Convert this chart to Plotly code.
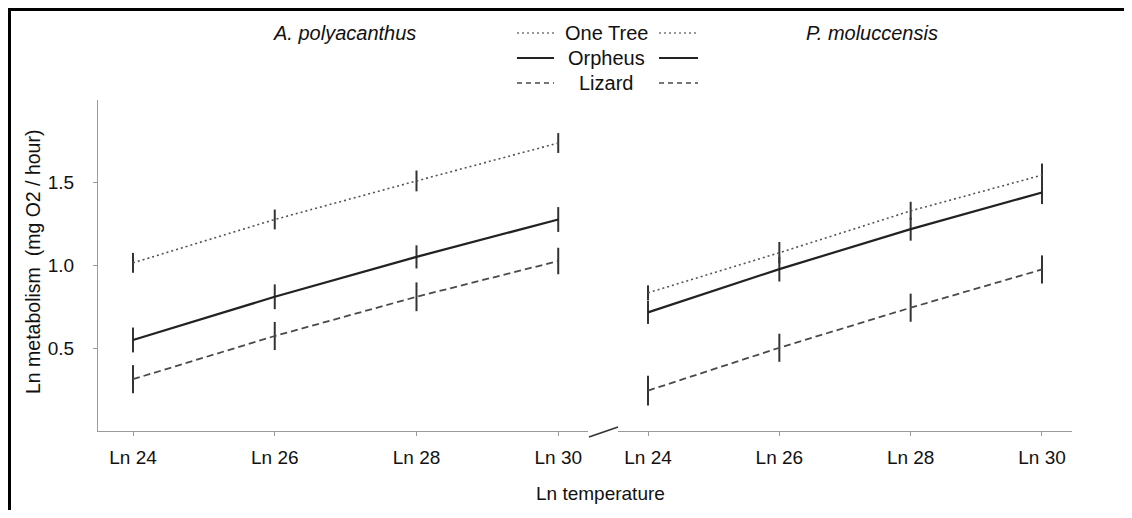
import plotly.graph_objects as go

temps = [24, 26, 28, 30]
tick_labels = ["Ln 24", "Ln 26", "Ln 28", "Ln 30"]

# A. polyacanthus (left panel)
apoly_onetree = [1.016, 1.278, 1.511, 1.740]
apoly_onetree_err = [0.06, 0.06, 0.063, 0.06]
apoly_orpheus = [0.550, 0.811, 1.052, 1.278]
apoly_orpheus_err = [0.075, 0.075, 0.07, 0.075]
apoly_lizard = [0.313, 0.574, 0.811, 1.027]
apoly_lizard_err = [0.085, 0.085, 0.087, 0.08]

# P. moluccensis (right panel)
pmol_onetree = [0.835, 1.077, 1.330, 1.546]
pmol_onetree_err = [0.045, 0.065, 0.055, 0.07]
pmol_orpheus = [0.717, 0.978, 1.220, 1.441]
pmol_orpheus_err = [0.07, 0.075, 0.07, 0.07]
pmol_lizard = [0.244, 0.503, 0.745, 0.976]
pmol_lizard_err = [0.09, 0.085, 0.085, 0.085]

series_names = ["One Tree", "Orpheus", "Lizard"]
styles = {
    "One Tree": dict(color="#555555", width=1.6, dash="2px,3px"),
    "Orpheus": dict(color="#222222", width=2.2, dash="solid"),
    "Lizard": dict(color="#4a4a4a", width=1.8, dash="7px,4px"),
}
legend_dash = {"One Tree": "2px,3px", "Orpheus": "solid", "Lizard": "5px,4px"}

OFF = 8  # page body margin
W, H = 1132 - 2 * OFF, 518 - 2 * OFF
# plot area in page pixels: x 98..1072, y 100..431
L = 98 - OFF
T = 100 - OFF
R = W - (1072 - OFF)
B = H - (431 - OFF)
PW = W - L - R
PH = H - T - B


def px(x):
    return (x - OFF - L) / PW


def py(y):
    return (H - B - (y - OFF)) / PH


FONT = "Liberation Sans, Arial, sans-serif"
fig = go.Figure()

panels = [
    ("x", [apoly_onetree, apoly_orpheus, apoly_lizard],
     [apoly_onetree_err, apoly_orpheus_err, apoly_lizard_err]),
    ("x2", [pmol_onetree, pmol_orpheus, pmol_lizard],
     [pmol_onetree_err, pmol_orpheus_err, pmol_lizard_err]),
]
for xa, vals, errs in panels:
    for name, v, e in zip(series_names, vals, errs):
        fig.add_trace(go.Scatter(
            x=temps, y=v, mode="lines", name=name, showlegend=False,
            xaxis=xa, yaxis="y",
            line=styles[name],
            error_y=dict(type="data", array=e, visible=True, width=0,
                         thickness=2, color="#333333"),
        ))

axis_common = dict(
    showline=True, linecolor="#9a9a9a", linewidth=1.2,
    ticks="outside", ticklen=4, tickcolor="#9a9a9a", tickwidth=1,
    showgrid=False, zeroline=False,
    tickfont=dict(family=FONT, size=19, color="#111111"),
)

fig.update_layout(
    width=W, height=H,
    margin=dict(l=L, r=R, t=T, b=B),
    paper_bgcolor="white", plot_bgcolor="white",
    showlegend=False,
    xaxis=dict(domain=[0, px(588)], range=[23.506, 30.42], anchor="y",
               tickvals=temps, ticktext=tick_labels, ticklabelstandoff=5,
               **axis_common),
    xaxis2=dict(domain=[px(618), 1], range=[23.543, 30.457], anchor="y",
                tickvals=temps, ticktext=tick_labels, ticklabelstandoff=5,
                **axis_common),
    yaxis=dict(domain=[0, 1], range=[0, 2.0], anchor="x",
               tickvals=[0.5, 1.0, 1.5], ticktext=["0.5", "1.0", "1.5"],
               ticklabelstandoff=15, **axis_common),
)

annotations = [
    dict(text="<i>A. polyacanthus</i>", x=px(344), y=py(33), size=20),
    dict(text="<i>P. moluccensis</i>", x=px(872), y=py(33), size=20),
    dict(text="Ln temperature", x=px(600), y=py(493), size=19),
    dict(text="Ln metabolism  (mg O2 / hour)", x=px(33), y=py(262),
         textangle=-90, size=19.5),
]
legend_rows = [("One Tree", 33), ("Orpheus", 58), ("Lizard", 83)]
for name, yy in legend_rows:
    annotations.append(dict(text=name, x=px(606), y=py(yy), size=20))

anns = []
for a in annotations:
    size = a.pop("size")
    anns.append(dict(a, xref="paper", yref="paper", showarrow=False,
                     xanchor="center", yanchor="middle",
                     font=dict(family=FONT, size=size, color="#111111")))
fig.update_layout(annotations=anns)

shapes = []
for name, yy in legend_rows:
    st = styles[name]
    for x0, x1 in [(517, 554), (659, 698)]:
        shapes.append(dict(type="line", xref="paper", yref="paper",
                           x0=px(x0), x1=px(x1), y0=py(yy), y1=py(yy),
                           line=dict(color=st["color"] if name != "One Tree" else "#777777",
                                     width=1.5 if name != "Orpheus" else 2,
                                     dash=legend_dash[name])))
# axis break mark
shapes.append(dict(type="line", xref="paper", yref="paper",
                   x0=px(589), y0=py(437), x1=px(618), y1=py(427),
                   line=dict(color="#333333", width=1.6)))
# outer frame: top and left edges
shapes.append(dict(type="line", xref="paper", yref="paper",
                   x0=px(8), y0=py(9.5), x1=px(1140), y1=py(9.5),
                   line=dict(color="#000000", width=3)))
shapes.append(dict(type="line", xref="paper", yref="paper",
                   x0=px(9.5), y0=py(8), x1=px(9.5), y1=py(540),
                   line=dict(color="#000000", width=3)))
fig.update_layout(shapes=shapes)

fig.write_html("out.html")
